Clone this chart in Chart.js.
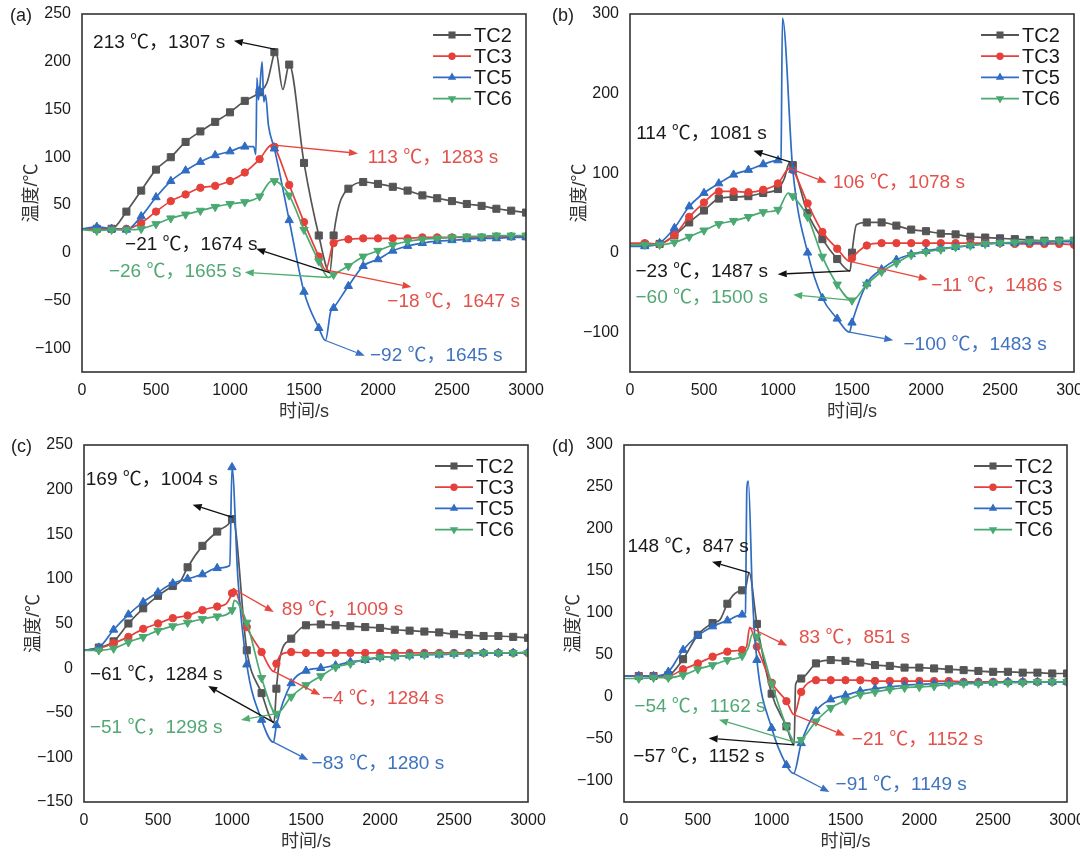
<!DOCTYPE html>
<html><head><meta charset="utf-8">
<script src="https://cdn.jsdelivr.net/npm/chart.js@4.4.0/dist/chart.umd.min.js"></script>
<style>
html,body{margin:0;padding:0;background:#fff;}
#wrap{position:relative;width:1080px;height:860px;overflow:hidden;background:#fff;}
.pn{position:absolute;}
.lbl{position:absolute;font:18px "Liberation Sans","Noto Sans CJK SC",sans-serif;color:#222;line-height:21px;}
</style></head><body>
<div id="wrap">
  <div class="pn" style="left:0;top:0;width:560px;height:430px"><canvas id="ca" width="560" height="430"></canvas></div>
  <div class="pn" style="left:540px;top:0;width:540px;height:430px"><canvas id="cb" width="540" height="430"></canvas></div>
  <div class="pn" style="left:0;top:430px;width:560px;height:430px"><canvas id="cc" width="560" height="430"></canvas></div>
  <div class="pn" style="left:540px;top:430px;width:540px;height:430px"><canvas id="cd" width="540" height="430"></canvas></div>
  <div class="lbl" style="left:10px;top:5px">(a)</div>
  <div class="lbl" style="left:552px;top:5px">(b)</div>
  <div class="lbl" style="left:11px;top:436px">(c)</div>
  <div class="lbl" style="left:552px;top:436px">(d)</div>
</div>
<script>
// ---------------- data ----------------
const TIME = [0,100,200,300,400,500,600,700,800,900,1000,1100,1200,1300,1400,1500,1600,1700,1800,1900,2000,2100,2200,2300,2400,2500,2600,2700,2800,2900,3000];
const SERIES_NAMES = ['TC2','TC3','TC5','TC6'];
const X_TICKS = [0,500,1000,1500,2000,2500,3000];
const X_TITLE = '时间/s';
const Y_TITLE = '温度/℃';

// (a)
const A_TC2 = [25,25,25,43,65,87,100,116,127,137,147,159,168,210,197,94,18,18,67,74,72,69,65,60,57,54,51,49,46,44,42];
const A_TC2_EXTRA = [[1250,178],[1307,213],[1357,171],[1674,-21],[1725,42],[1750,56]];
const A_TC3 = [25,25,25,25,31,43,54,61,68,70,75,84,98,111,71,32,-4,10,14,15,15,15,15,16,16,16,16,16,17,17,17];
const A_TC3_EXTRA = [[1283,113],[1647,-18]];
const A_TC5 = [25,27,25,24,38,58,75,86,95,102,106,111,170,109,34,-41,-79,-58,-35,-14,-7,2,7,10,12,13,14,15,15,16,16];
const A_TC5_EXTRA = [[1160,111],[1175,103],[1182,183],[1192,160],[1217,200],[1228,158],[1240,165],[1260,133],[1645,-92],[1680,-62]];
const A_TC6 = [24,23,24,24,25,30,36,40,44,48,51,53,59,75,60,24,-9,-23,-14,-4,2,8,12,14,15,16,17,17,18,18,18];
const A_TC6_EXTRA = [[1150,55],[1280,75],[1665,-26]];

// (b)
const B_TC2 = [10,10,11,22,38,53,68,70,71,75,80,110,50,17,-8,0,38,38,34,29,27,24,23,20,19,18,17,16,15,15,15];
const B_TC2_EXTRA = [[1040,92],[1081,114],[1487,-23],[1530,35]];
const B_TC3 = [12,12,11,22,45,63,77,77,76,79,87,104,62,26,5,-7,9,12,12,12,12,12,12,12,12,12,11,11,11,11,10];
const B_TC3_EXTRA = [[1078,106],[1486,-11]];
const B_TC5 = [8,8,12,31,58,75,87,98,104,111,116,104,0,-57,-83,-88,-39,-21,-9,-2,2,5,7,9,11,12,12,13,13,14,14];
const B_TC5_EXTRA = [[1020,118],[1030,295],[1483,-100]];
const B_TC6 = [10,10,10,13,20,28,36,40,45,51,54,71,45,-5,-40,-60,-40,-24,-13,-3,1,4,7,9,11,12,13,14,15,15,16];
const B_TC6_EXTRA = [[1070,75]];

// (c)
const C_TC2 = [20,23,30,50,67,81,92,113,137,153,167,20,-28,-23,33,48,49,48,47,46,45,43,42,41,40,38,37,36,36,35,34];
const C_TC2_EXTRA = [[650,97],[1004,169],[1284,-61],[1325,12]];
const C_TC3 = [20,22,28,35,44,50,56,59,65,69,84,46,18,5,18,17,17,17,17,17,17,17,17,17,17,17,17,17,17,17,17];
const C_TC3_EXTRA = [[960,72],[1009,89],[1284,-4],[1330,15]];
const C_TC5 = [20,23,43,60,74,85,95,100,105,112,225,4,-58,-64,-17,-3,0,3,7,9,12,13,14,15,15,16,16,17,17,17,18];
const C_TC5_EXTRA = [[985,115],[1040,100],[1280,-83]];
const C_TC6 = [20,20,22,29,35,42,47,51,55,58,65,51,-11,-51,-32,-19,-9,1,5,10,12,13,14,15,16,16,16,17,17,17,17];
const C_TC6_EXTRA = [[1015,76]];

// (d)
const D_TC2 = [25,25,25,26,45,74,88,111,127,87,4,-35,22,40,44,43,41,38,37,35,35,34,33,32,31,30,30,29,29,28,28];
const D_TC2_EXTRA = [[650,92],[750,123],[820,128],[847,148],[1152,-57],[1162,15]];
const D_TC3 = [25,25,25,25,33,40,48,54,56,60,17,-5,6,20,20,20,20,19,19,19,19,19,19,18,18,18,18,18,18,18,18];
const D_TC3_EXTRA = [[830,60],[851,83],[1152,-21]];
const D_TC5 = [25,25,25,30,56,73,84,91,98,44,-37,-81,-55,-17,-3,2,7,10,12,14,15,16,16,17,17,17,18,18,18,18,18];
const D_TC5_EXTRA = [[822,100],[832,248],[842,257],[870,120],[1149,-91]];
const D_TC6 = [22,22,23,23,26,33,38,44,49,72,16,-35,-51,-29,-13,-4,3,6,9,11,12,13,15,16,16,17,17,17,18,18,18];
const D_TC6_EXTRA = [[840,58],[870,75],[1162,-54]];

// annotation labels: [text, colour key, data point [t,v], arrow head [t,v], text left/centre [t,v]]
const NOTES_A = [
  ['213 ℃，1307 s','k',[1307,213],[1026,222],[75,220]],
  ['113 ℃，1283 s','r',[1283,113],[1865,104],[1930,99]],
  ['−21 ℃，1674 s','k',[1674,-21],[1177,4],[291,8]],
  ['−26 ℃，1665 s','g',[1665,-26],[1100,-20.5],[182,-20.5]],
  ['−18 ℃，1647 s','r',[1647,-18],[2226,-36],[2063,-51]],
  ['−92 ℃，1645 s','b',[1645,-92],[1911,-108],[1946,-108]]
];
const NOTES_B = [
  ['114 ℃，1081 s','k',[1081,114],[834,128],[42,150]],
  ['106 ℃，1078 s','r',[1078,106],[1329,88],[1371,88]],
  ['−23 ℃，1487 s','k',[1487,-23],[998,-27],[37,-24]],
  ['−60 ℃，1500 s','g',[1500,-60],[1103,-53],[37,-57]],
  ['−11 ℃，1486 s','r',[1486,-11],[2012,-33.5],[2035,-41]],
  ['−100 ℃，1483 s','b',[1483,-100],[1779,-110],[1848,-116]]
];
const NOTES_C = [
  ['169 ℃，1004 s','k',[1004,169],[734,183],[12,211]],
  ['89 ℃，1009 s','r',[1009,89],[1282,63],[1336,65]],
  ['−61 ℃，1284 s','k',[1284,-61],[839,-20],[40,-8]],
  ['−4 ℃，1284 s','r',[1284,-4],[1597,-30],[1608,-34]],
  ['−51 ℃，1298 s','g',[1298,-51],[1060,-58],[40,-67]],
  ['−83 ℃，1280 s','b',[1280,-83],[1515,-103],[1538,-107]]
];
const NOTES_D = [
  ['148 ℃，847 s','k',[847,148],[596,161],[23,179]],
  ['83 ℃，851 s','r',[851,83],[1106,61],[1185,70]],
  ['−54 ℃，1162 s','g',[1162,-54],[643,-27],[70,-11.5]],
  ['−57 ℃，1152 s','k',[1152,-57],[573,-49],[63,-71]],
  ['−21 ℃，1152 s','r',[1152,-21],[1496,-46],[1543,-51]],
  ['−91 ℃，1149 s','b',[1149,-91],[1391,-113],[1433,-105]]
];

// ---------------- styles ----------------
const LINE_COLORS = ['#555555','#e5403a','#2f6cc2','#4aa970'];
const NOTE_COLORS = {k:'#1a1a1a', r:'#e2514b', b:'#3f73c0', g:'#52a874'};
const ARROW_COLORS = {k:'#111111', r:'#e8453c', b:'#3a70c4', g:'#4fae70'};
const MARKERS = [
  {style:'rect', r:5, rot:0},
  {style:'circle', r:3.7, rot:0},
  {style:'triangle', r:4.8, rot:0},
  {style:'triangle', r:4.8, rot:180}
];
const FONT = '"Liberation Sans","Noto Sans CJK SC",sans-serif';

const PANELS = [
  {id:'ca', W:560, series:[A_TC2,A_TC3,A_TC5,A_TC6], extras:[A_TC2_EXTRA,A_TC3_EXTRA,A_TC5_EXTRA,A_TC6_EXTRA], y:[-125,250,50], area:{l:82,t:14,r:526,b:372}, notes:NOTES_A},
  {id:'cb', W:540, series:[B_TC2,B_TC3,B_TC5,B_TC6], extras:[B_TC2_EXTRA,B_TC3_EXTRA,B_TC5_EXTRA,B_TC6_EXTRA], y:[-150,300,100], area:{l:90,t:14,r:534,b:372}, notes:NOTES_B},
  {id:'cc', W:560, series:[C_TC2,C_TC3,C_TC5,C_TC6], extras:[C_TC2_EXTRA,C_TC3_EXTRA,C_TC5_EXTRA,C_TC6_EXTRA], y:[-150,250,50], area:{l:84,t:15,r:528,b:372}, notes:NOTES_C},
  {id:'cd', W:540, series:[D_TC2,D_TC3,D_TC5,D_TC6], extras:[D_TC2_EXTRA,D_TC3_EXTRA,D_TC5_EXTRA,D_TC6_EXTRA], y:[-125,300,50], area:{l:84,t:15,r:527,b:372}, notes:NOTES_D}
];

function buildPoints(grid, extra){
  const pts = TIME.map((t,i)=>({x:t, y:grid[i], m:t>0}));
  extra.forEach(p=>pts.push({x:p[0], y:p[1], m:false}));
  pts.sort((a,b)=>a.x-b.x);
  return pts;
}

function drawMarker(ctx, mk, x, y){
  ctx.beginPath();
  if(mk.style==='rect'){
    const s = mk.r*Math.SQRT1_2;
    ctx.rect(x-s,y-s,2*s,2*s);
  } else if(mk.style==='circle'){
    ctx.arc(x,y,mk.r,0,Math.PI*2);
  } else {
    let rad = mk.rot*Math.PI/180;
    ctx.moveTo(x+Math.sin(rad)*mk.r, y-Math.cos(rad)*mk.r);
    rad += Math.PI*2/3;
    ctx.lineTo(x+Math.sin(rad)*mk.r, y-Math.cos(rad)*mk.r);
    rad += Math.PI*2/3;
    ctx.lineTo(x+Math.sin(rad)*mk.r, y-Math.cos(rad)*mk.r);
    ctx.closePath();
  }
  ctx.fill();
}

function arrow(ctx,x1,y1,x2,y2,color){
  const a = Math.atan2(y2-y1,x2-x1), L=9, W=3.6;
  const bx = x2-L*Math.cos(a), by = y2-L*Math.sin(a);
  ctx.strokeStyle=color; ctx.fillStyle=color; ctx.lineWidth=1.3;
  ctx.beginPath(); ctx.moveTo(x1,y1); ctx.lineTo(bx,by); ctx.stroke();
  ctx.beginPath(); ctx.moveTo(x2,y2);
  ctx.lineTo(bx+W*Math.sin(a), by-W*Math.cos(a));
  ctx.lineTo(bx-W*Math.sin(a), by+W*Math.cos(a));
  ctx.closePath(); ctx.fill();
}

function makeDeco(panel){
  return {
    id:'deco_'+panel.id,
    afterDatasetsDraw(chart){
      const {ctx, chartArea:ca} = chart;
      ctx.save();
      ctx.strokeStyle='#333'; ctx.lineWidth=1.6;
      ctx.strokeRect(ca.left, ca.top, ca.right-ca.left, ca.bottom-ca.top);
      ctx.restore();
    },
    afterDraw(chart){
      const {ctx, chartArea:ca} = chart;
      const xs = chart.scales.x, ys = chart.scales.y;
      ctx.save();
      // legend
      const lx = ca.right-93, ly = ca.top+21, step = 21.2;
      SERIES_NAMES.forEach((name,i)=>{
        const y = ly+i*step;
        ctx.strokeStyle = LINE_COLORS[i]; ctx.lineWidth = 1.8;
        ctx.beginPath(); ctx.moveTo(lx,y); ctx.lineTo(lx+38,y); ctx.stroke();
        ctx.fillStyle = LINE_COLORS[i];
        drawMarker(ctx, MARKERS[i], lx+19, y);
        ctx.fillStyle = '#1a1a1a';
        ctx.font = '20px '+FONT; ctx.textAlign='left'; ctx.textBaseline='middle';
        ctx.fillText(name, lx+41, y+1);
      });
      // annotations
      panel.notes.forEach(n=>{
        const [text,ck,pt,hd,tp] = n;
        arrow(ctx, xs.getPixelForValue(pt[0]), ys.getPixelForValue(pt[1]),
                   xs.getPixelForValue(hd[0]), ys.getPixelForValue(hd[1]), ARROW_COLORS[ck]);
        ctx.fillStyle = NOTE_COLORS[ck];
        ctx.font = '19px '+FONT; ctx.textAlign='left'; ctx.textBaseline='middle';
        ctx.fillText(text, xs.getPixelForValue(tp[0]), ys.getPixelForValue(tp[1]));
      });
      ctx.restore();
    }
  };
}

Chart.defaults.font.family = FONT;
Chart.defaults.font.size = 16;
Chart.defaults.color = '#222';

PANELS.forEach(panel=>{
  const A = panel.area, H = 430;
  const datasets = panel.series.map((grid,i)=>({
    label: SERIES_NAMES[i],
    data: buildPoints(grid, panel.extras[i]),
    borderColor: LINE_COLORS[i],
    backgroundColor: LINE_COLORS[i],
    borderWidth: 1.7,
    pointStyle: MARKERS[i].style,
    pointRotation: MARKERS[i].rot,
    pointRadius: c => (c.raw && c.raw.m) ? MARKERS[i].r : 0,
    pointBorderWidth: 1,
    pointBackgroundColor: LINE_COLORS[i],
    pointBorderColor: LINE_COLORS[i],
    cubicInterpolationMode: 'monotone',
    order: 4-i
  }));
  new Chart(document.getElementById(panel.id), {
    type:'line',
    data:{datasets},
    options:{
      responsive:false, animation:false, events:[],
      layout:{padding:{top:A.t, right:panel.W-A.r, bottom:0, left:0}},
      plugins:{legend:{display:false}, tooltip:{enabled:false}},
      scales:{
        x:{
          type:'linear', min:0, max:3000,
          afterBuildTicks: s => { s.ticks = X_TICKS.map(v=>({value:v})); },
          afterFit: s => { s.height = H - A.b; s.paddingLeft = 0; s.paddingRight = 0; },
          grid:{display:false}, border:{display:false},
          ticks:{padding:1, color:'#1a1a1a', font:{size:16}, maxRotation:0, autoSkip:false,
                 callback: v => String(v)},
          title:{display:true, text:X_TITLE, color:'#333', font:{size:18}, padding:{top:0,bottom:7}}
        },
        y:{
          type:'linear', min:panel.y[0], max:panel.y[1],
          ticks:{stepSize:panel.y[2], includeBounds:false, padding:3, color:'#1a1a1a', font:{size:16},
                 callback: v => String(v).replace('-', '−')},
          afterFit: s => { s.width = A.l; s.paddingTop = 0; s.paddingBottom = 0; },
          grid:{display:false}, border:{display:false},
          title:{display:true, text:Y_TITLE, color:'#333', font:{size:18}, padding:{top:A.l-50-10.8, bottom:0}}
        }
      }
    },
    plugins:[makeDeco(panel)]
  });
});
</script>
</body></html>
